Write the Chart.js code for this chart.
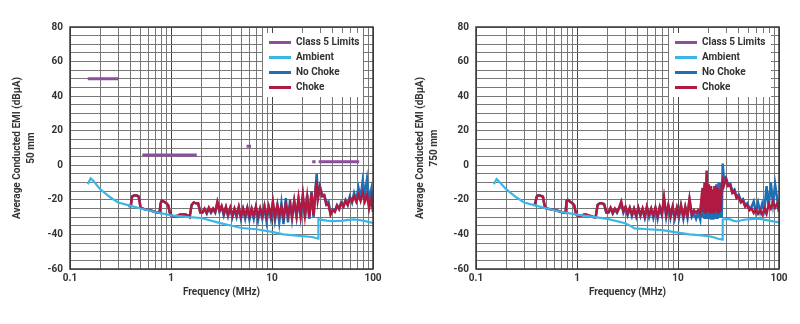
<!DOCTYPE html>
<html>
<head>
<meta charset="utf-8">
<script src="https://cdn.jsdelivr.net/npm/chart.js@4.4.1/dist/chart.umd.min.js"></script>
<style>
  body { margin: 0; background: #fff; }
  .wrap { display: flex; width: 800px; height: 324px; }
  canvas { display: block; }
</style>
</head>
<body>
<div class="wrap">
  <canvas id="emi50" width="400" height="324"></canvas>
  <canvas id="emi750" width="400" height="324"></canvas>
</div>
<script>
// ---- data (MHz / dBuA) ----
const seriesNames = ['Class 5 Limits', 'Ambient', 'No Choke', 'Choke'];
const xTickLabels = ['0.1', '1', '10', '100'];
const yTickLabels = [80, 60, 40, 20, 0, -20, -40, -60];

// class 5 average limit segments (null = gap), 50 mm plot only
const limitFreq  = [0.15, 0.3, 0.3, 0.52, 1.8, 1.8, 5.6, 6.2, 6.2, 25, 27, 27, 29, 73];
const limitLevel = [50, 50, null, 6, 6, null, 11, 11, null, 2, 2, null, 2, 2];

const ambientFreq50 = [0.15, 0.16, 0.17, 0.2, 0.25, 0.3, 0.4, 0.5, 0.7, 1, 1.5, 2, 3, 4, 5, 7, 10, 13, 20, 25, 28.7, 28.8, 35, 40, 50, 64, 70, 80, 100];
const ambient50     = [-11, -7.5, -9, -14, -18.5, -21.5, -23.5, -25, -27, -29, -30, -30.5, -33.3, -35, -36.3, -37, -38.5, -40, -41, -41.5, -42.5, -31.3, -32, -32.3, -32, -31.3, -31.5, -32, -33.3];

const ambientFreq750 = [0.15, 0.16, 0.17, 0.2, 0.25, 0.3, 0.4, 0.5, 0.7, 1, 1.5, 2, 3, 3.5, 3.7, 5, 7, 10, 13, 17, 20, 22, 25, 27.6, 27.7, 32, 35, 38, 45, 56, 65, 80, 100];
const ambient750     = [-11, -8, -9.5, -14, -18.5, -21.5, -23.5, -25, -27, -28.5, -30, -31, -33.5, -35.5, -36.5, -37, -37.5, -39, -40, -40.5, -41, -41.5, -42.5, -43, -31.3, -31, -32, -32.5, -31.5, -31, -31, -32, -33];

const emiFreq50 = [
  0.38, 0.40, 0.41, 0.43, 0.46, 0.48, 0.50, 0.55, 0.62, 0.70, 0.77, 0.79, 0.81, 0.85, 0.90, 0.94,
  0.97, 1.00, 1.05, 1.12, 1.18, 1.23, 1.30, 1.39, 1.46, 1.53, 1.60, 1.68, 1.77, 1.86, 1.95,
  2.05, 2.15, 2.26, 2.37, 2.49, 2.61, 2.74, 2.88, 3.02, 3.17, 3.33, 3.5, 3.67, 3.86, 4.05, 4.25,
  4.46, 4.69, 4.92, 5.17, 5.43, 5.7, 5.98, 6.28, 6.6, 6.93, 7.27, 7.64, 8.02, 8.42, 8.84, 9.28,
  9.75, 10.2, 10.7, 11.3, 11.8, 12.4, 13.0, 13.7, 14.4, 15.1, 15.8, 16.6, 17.5, 18.3, 19.2, 20.2,
  21.2, 22.3, 23.4, 24.6, 25.8, 27.1, 27.7, 28.4, 29.8, 31.3, 32.9, 34.5, 36.2, 38.0, 39.9, 41.9,
  44.0, 46.2, 48.5, 51.0, 53.5, 56.2, 59.0, 62.0, 65.0, 68.3, 71.7, 75.3, 79.1, 83.0, 87.2, 91.5,
  96.1, 100
];

const choke50 = [
  -23.5, -23.5, -18.5, -17.5, -17.5, -18.5, -24.5, -25.5, -26, -27, -27.5, -22, -20.5, -21, -22, -23,
  -27, -29, -29.5, -29.5, -29, -28.5, -28.5, -28.5, -29, -30, -23, -21.5, -22, -22, -27,
  -27, -25, -27.5, -24.5, -27, -25, -27, -21, -26, -23.5, -28, -24, -28.5, -24.5, -29, -25,
  -28.5, -24, -29.5, -25, -29, -24.5, -29.5, -25, -29, -24, -29.5, -25, -29, -23.5, -29.5, -24,
  -29, -21, -29.5, -23, -29, -24, -30, -22.5, -29, -23, -29.5, -20.5, -29, -19, -28.5, -17,
  -29, -18, -30, -16, -29, -13, -9, -20, -13, -18, -17.5, -23, -22.5, -28.5, -26, -27,
  -23.5, -25.5, -22, -24, -20.5, -23, -19, -21, -18, -21, -17, -20.5, -16, -21, -17, -25,
  -19, -27
];
const noChoke50 = [
  -23.5, -23.5, -18, -17.5, -17.5, -18, -24.5, -25.5, -26, -27, -27.5, -22, -20.5, -21, -22, -23.5,
  -27.5, -29, -29.5, -29.5, -29, -28.5, -28.5, -28.5, -29, -30, -23, -21.5, -22, -22.5, -27.5,
  -27.5, -25.5, -28, -25, -27.5, -25.5, -27.5, -22, -27, -24, -29, -24.5, -29.5, -25, -30, -25.5,
  -30, -24.5, -31, -25.5, -31, -25, -31.5, -25.5, -31, -24.5, -32, -25.5, -31, -24, -32.5, -24.5,
  -31, -22, -32, -23.5, -33, -22, -34, -19, -33, -20, -31, -21, -30, -20, -30, -18,
  -30.5, -17, -31, -15, -30, -12, -5, -18, -12, -17, -17, -21.5, -21, -28, -25.5, -26.5,
  -23, -25, -21.5, -23.5, -20, -22.5, -18, -21.5, -16, -20, -13, -19, -9, -17, -8, -20,
  -14, -25
];

const emiFreq750 = [
  0.38, 0.40, 0.41, 0.43, 0.46, 0.48, 0.50, 0.55, 0.62, 0.70, 0.77, 0.79, 0.81, 0.85, 0.90, 0.94,
  0.97, 1.00, 1.05, 1.12, 1.18, 1.23, 1.30, 1.39, 1.46, 1.53, 1.60, 1.68, 1.77, 1.86, 1.95,
  2.05, 2.15, 2.26, 2.37, 2.49, 2.61, 2.74, 2.88, 3.02, 3.17, 3.33, 3.5, 3.67, 3.86, 4.05, 4.25,
  4.46, 4.69, 4.92, 5.17, 5.43, 5.7, 5.98, 6.28, 6.6, 6.93, 7.27, 7.64, 8.02, 8.42, 8.84, 9.28,
  9.75, 10.2, 10.7, 11.3, 11.8, 12.4, 13.0, 13.7, 14.4, 15.1, 15.8,
  16.6, 17.0, 17.5, 17.9, 18.3, 18.7, 19.2, 19.7, 20.2, 20.7, 21.2, 21.7, 22.3, 22.8, 23.4, 24.0,
  24.6, 25.2, 25.8, 26.4, 27.1, 27.7, 28.4,
  29.8, 31.3, 32.9, 34.5, 36.2, 38.0, 39.9, 41.9, 44.0, 46.2, 48.5, 51.0, 53.5, 56.2, 59.0, 62.0,
  65.0, 68.3, 71.7, 75.3, 79.1, 83.0, 87.2, 91.5, 96.1, 100
];

const choke750 = [
  -23.5, -18, -17.5, -17.5, -18, -24, -25, -25.5, -26, -27, -27.5, -20.5, -20, -21, -22, -23,
  -27, -29, -29.5, -29, -28.5, -28.5, -29, -29.5, -30, -30, -23, -22, -22, -22.5, -27,
  -27, -24.5, -27.5, -25, -27, -24.5, -21, -26.5, -24, -28, -24.5, -28.5, -25, -29, -24.5, -28.5,
  -25, -29.5, -24, -28.5, -25, -29, -24.5, -29.5, -24, -28, -18.5, -28.5, -23, -29, -24, -29.5,
  -24.5, -29, -23, -29.5, -24, -29, -19.5, -28.5, -26, -27.5, -26,
  -27.5, -20, -13, -27, -10, -28, -3, -27, -11, -28, -12, -27.5, -14, -28, -12, -27,
  -13, -28, -14, -27, -12, -9, -12,
  -8, -12, -11.5, -16, -15, -19, -18, -21.5, -20.5, -24, -23, -26, -25, -27.5, -25.5, -28,
  -26, -28.5, -25, -28, -22.5, -25, -21, -24.5, -22, -27
];
const noChoke750 = [
  -23.5, -18, -17.5, -17.5, -18.5, -24, -25, -25.5, -26, -27, -27.5, -20.5, -20, -21, -22, -23.5,
  -27.5, -29, -29.5, -29, -28.5, -28.5, -29, -29.5, -30, -30, -23, -22, -22, -23, -27.5,
  -27.5, -25, -28, -25.5, -27.5, -25, -22, -27.5, -24.5, -29, -25, -29.5, -25.5, -30, -25, -29.5,
  -25.5, -30.5, -24.5, -30, -25.5, -30.5, -25, -31, -24.5, -29, -20, -30, -23.5, -30.5, -24.5, -31,
  -25, -30.5, -23.5, -31, -24.5, -30.5, -20, -30, -28, -31, -27.5,
  -31.5, -22, -30, -19, -31, -18, -31, -17, -31, -16, -31.5, -15, -31.5, -12, -31, -11,
  -31, -10, -30.5, -10, -30, 1, -8,
  -7, -11, -10.5, -15, -14, -18, -17, -20.5, -19.5, -23, -22, -25, -24, -21, -27, -21.5,
  -27, -22, -26, -12, -24, -10, -22, -11, -20, -25
];

// ---- look ----
const FONT = 'Roboto, "Noto Sans", sans-serif';
const INK = '#333';
const COLORS = ['#8d4e9e', '#3cb6e6', '#1e6fb6', '#b01a42'];

const xMajor = [0.1, 1, 10, 100];
const xGrid = [];
[0.1, 1, 10].forEach(d => { for (let m = 1; m < 10; m++) xGrid.push(+(d * m).toFixed(2)); });
xGrid.push(100);

const pts = (xs, ys) => xs.map((x, i) => ({ x: x, y: ys[i] }));

// white legend box inside the plot + dark frame
const boxLegend = {
  id: 'boxLegend',
  afterDatasetsDraw(chart, args, opts) {
    const { ctx, chartArea: a } = chart;
    ctx.save();
    const x = a.right - opts.right - opts.width, y = a.top + opts.top;
    ctx.fillStyle = '#fff';
    ctx.fillRect(x, y, opts.width, opts.height);
    ctx.font = 'bold 10px ' + FONT;
    ctx.textBaseline = 'middle';
    chart.data.datasets.forEach((ds, i) => {
      const ly = y + 9.5 + i * 15;
      ctx.strokeStyle = ds.borderColor;
      ctx.lineWidth = 3;
      ctx.beginPath(); ctx.moveTo(x + 6, ly); ctx.lineTo(x + 28, ly); ctx.stroke();
      ctx.fillStyle = INK;
      ctx.fillText(ds.label, x + 33, ly);
    });
    ctx.strokeStyle = '#3a3a3a';
    ctx.lineWidth = 1.5;
    ctx.strokeRect(a.left, a.top, a.right - a.left, a.bottom - a.top);
    ctx.restore();
  }
};

function makeChart(id, cfg) {
  const sets = [
    { label: seriesNames[0], data: cfg.limit, borderColor: COLORS[0], borderWidth: 3, order: 0, spanGaps: false },
    { label: seriesNames[1], data: cfg.ambient, borderColor: COLORS[1], borderWidth: 2.2, order: 1 },
    { label: seriesNames[2], data: cfg.noChoke, borderColor: COLORS[2], borderWidth: 2.5, order: 3 },
    { label: seriesNames[3], data: cfg.choke, borderColor: COLORS[3], borderWidth: 2.5, order: 2 }
  ];
  sets.forEach(s => { s.pointRadius = 0; s.tension = 0; s.fill = false; });

  return new Chart(document.getElementById(id), {
    type: 'line',
    data: { datasets: sets },
    options: {
      responsive: false,
      animation: false,
      events: [],
      layout: { padding: { left: 0, right: cfg.padRight, top: 27, bottom: 21 } },
      scales: {
        x: {
          type: 'logarithmic',
          min: 0.1, max: 100,
          afterBuildTicks: s => { s.ticks = xGrid.map(v => ({ value: v })); },
          afterFit: s => { s.height = 34; },
          grid: {
            drawTicks: false,
            lineWidth: 1,
            color: c => xMajor.includes(c.tick && c.tick.value) ? '#444' : '#777'
          },
          border: { display: false },
          ticks: {
            autoSkip: false, maxRotation: 0, padding: 3, color: INK,
            font: { family: FONT, size: 10, weight: 'bold' },
            callback: v => { const k = xMajor.indexOf(v); return k >= 0 ? xTickLabels[k] : ''; }
          },
          title: {
            display: true, text: 'Frequency (MHz)', color: INK,
            font: { family: FONT, size: 10, weight: 'bold', lineHeight: 1.35 },
            padding: { top: 2, bottom: 4 }
          }
        },
        y: {
          min: -60, max: 80,
          afterFit: s => { s.width = cfg.axisWidth; },
          grid: { drawTicks: false, lineWidth: 1, color: '#777' },
          border: { display: false },
          ticks: {
            stepSize: 5, autoSkip: false, padding: 7, color: INK,
            font: { family: FONT, size: 10, weight: 'bold' },
            callback: v => yTickLabels.includes(v) ? String(v) : ''
          },
          title: {
            display: true, text: ['Average Conducted EMI (dBµA)', cfg.distance], color: INK,
            font: { family: FONT, size: 10, weight: 'bold', lineHeight: 1.35 },
            padding: { top: cfg.titlePad, bottom: 0 }
          }
        }
      },
      plugins: {
        legend: { display: false },
        tooltip: { enabled: false },
        boxLegend: cfg.legendBox
      }
    },
    plugins: [boxLegend]
  });
}

makeChart('emi50', {
  distance: '50 mm',
  limit: pts(limitFreq, limitLevel),
  ambient: pts(ambientFreq50, ambient50),
  noChoke: pts(emiFreq50, noChoke50),
  choke: pts(emiFreq50, choke50),
  padRight: 27, axisWidth: 70, titlePad: 11,
  legendBox: { right: 10, top: 6, width: 100, height: 64 }
});

makeChart('emi750', {
  distance: '750 mm',
  limit: [],
  ambient: pts(ambientFreq750, ambient750),
  noChoke: pts(emiFreq750, noChoke750),
  choke: pts(emiFreq750, choke750),
  padRight: 21, axisWidth: 76, titlePad: 14,
  legendBox: { right: 8, top: 6, width: 102, height: 64 }
});
</script>
</body>
</html>
